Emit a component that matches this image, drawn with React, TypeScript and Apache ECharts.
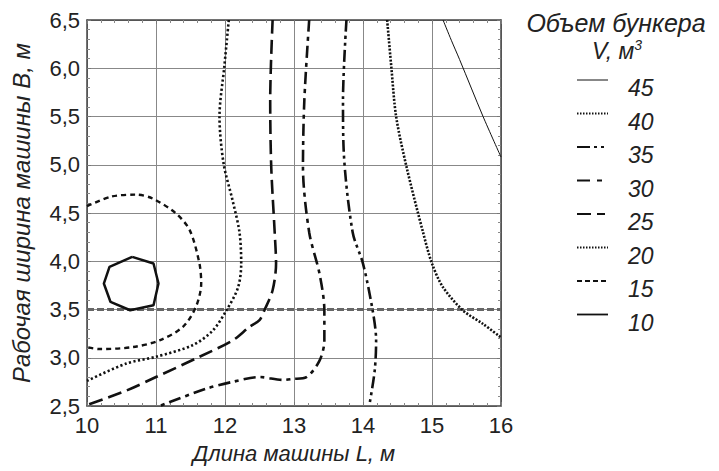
import React, { useEffect, useRef } from 'react';
import * as echarts from 'echarts';

// Contour levels, bunker volume V, m³
const levels = [45, 40, 35, 30, 25, 20, 15, 10];

// Contour lines: [L, B] pairs
const contour10: number[][] = [
  [10.655, 4.045], [10.964, 3.976], [11.036, 3.769], [10.964, 3.544], [10.626, 3.492],
  [10.341, 3.578], [10.244, 3.769], [10.326, 3.941], [10.655, 4.045],
];
const contour15: number[][] = [
  [10.0, 4.57], [10.35, 4.67], [10.71, 4.69], [10.95, 4.65], [11.29, 4.495], [11.49, 4.32],
  [11.63, 3.976], [11.655, 3.77], [11.58, 3.53], [11.39, 3.32], [11.05, 3.18], [10.66, 3.11],
  [10.18, 3.09], [10.0, 3.11],
];
const contour20: number[][] = [
  [12.055, 6.5], [11.99, 6.016], [11.92, 5.5], [11.98, 5.01], [12.11, 4.63], [12.21, 4.3],
  [12.235, 3.976], [12.19, 3.73], [12.02, 3.49], [11.82, 3.28], [11.53, 3.13], [11.0, 3.01],
  [10.57, 2.94], [10.0, 2.76],
];
const contour25: number[][] = [
  [12.69, 6.5], [12.655, 5.67], [12.67, 4.98], [12.72, 4.3], [12.74, 3.976], [12.69, 3.7],
  [12.57, 3.49], [12.5, 3.39], [12.355, 3.32], [12.11, 3.18], [11.63, 3.01], [11.0, 2.8],
  [10.57, 2.66], [10.0, 2.51],
];
const contour30: number[][] = [
  [13.22, 6.5], [13.15, 5.67], [13.13, 4.98], [13.22, 4.3], [13.37, 3.87], [13.44, 3.49],
  [13.44, 3.18], [13.37, 2.97], [13.18, 2.8], [12.98, 2.78], [12.84, 2.77], [12.5, 2.8],
  [12.11, 2.75], [11.73, 2.68], [11.05, 2.5],
];
const contour35: number[][] = [
  [13.76, 6.5], [13.71, 5.67], [13.72, 5.15], [13.85, 4.3], [14.0, 3.976], [14.14, 3.49],
  [14.19, 3.18], [14.17, 2.87], [14.09, 2.5],
];
const contour40: number[][] = [
  [14.35, 6.5], [14.41, 6.016], [14.48, 5.5], [14.63, 4.98], [14.87, 4.3], [15.0, 3.976],
  [15.16, 3.73], [15.45, 3.49], [15.74, 3.35], [16.0, 3.21],
];
const contour45: number[][] = [
  [15.16, 6.5], [15.28, 6.29], [15.4, 6.09], [15.74, 5.5], [16.0, 5.08],
];

const refB = 3.5;
const xMin = 10, xMax = 16, yMin = 2.5, yMax = 6.5;

const contours: Record<number, number[][]> = {
  45: contour45, 40: contour40, 35: contour35, 30: contour30,
  25: contour25, 20: contour20, 15: contour15, 10: contour10,
};

const styles: Record<number, { width: number; dash: number[] | 'solid'; legendDash: number[] | null }> = {
  45: { width: 1, dash: 'solid', legendDash: null },
  40: { width: 2.6, dash: [2, 1.6], legendDash: [1.5, 1.5] },
  35: { width: 2.6, dash: [12, 4, 3, 4, 3, 4], legendDash: [13, 4, 3, 4, 3, 4] },
  30: { width: 2.6, dash: [12, 5, 4, 5], legendDash: [13, 7, 5, 10] },
  25: { width: 2.6, dash: [14, 6], legendDash: [14, 6, 8, 10] },
  20: { width: 2.6, dash: [2.2, 2.4], legendDash: [1.5, 1.5] },
  15: { width: 2.4, dash: [5, 4], legendDash: [5, 3] },
  10: { width: 2.5, dash: 'solid', legendDash: null },
};

const FONT = '"Liberation Sans", Arial, Helvetica, sans-serif';
const TXT = '#222';

export default function App() {
  const ref = useRef<HTMLDivElement>(null);
  useEffect(() => {
    if (!ref.current) return;
    const chart = echarts.init(ref.current, undefined, { renderer: 'svg' });

    const series: any[] = levels.map((lv) => ({
      type: 'line',
      name: String(lv),
      data: contours[lv],
      showSymbol: false,
      symbol: 'none',
      smooth: lv === 10 ? false : 0.3,
      lineStyle: { color: '#111', width: styles[lv].width, type: styles[lv].dash },
      z: 3,
    }));
    series.push({
      type: 'line',
      name: 'ref',
      data: [[xMin, refB], [xMax, refB]],
      showSymbol: false,
      symbol: 'none',
      lineStyle: { color: '#666', width: 3, type: [7, 3] },
      z: 2,
    });

    const legendX1 = 577, legendX2 = 608, legendTextX = 628;
    const legendLineY0 = 80, legendTextY0 = 88, step = 33.5;
    const graphic: any[] = [
      {
        type: 'text', x: 616, y: 23,
        style: { text: 'Объем бункера', font: `italic 25px ${FONT}`, fill: TXT, align: 'center', verticalAlign: 'middle' },
      },
      {
        type: 'text', x: 617, y: 51,
        style: {
          text: 'V, м{sup|3}', font: `italic 23px ${FONT}`, fill: TXT, align: 'center', verticalAlign: 'middle',
          rich: { sup: { fontSize: 14, fontStyle: 'italic', fontFamily: FONT, verticalAlign: 'top', padding: [0, 0, 12, 0], fill: TXT } },
        },
      },
    ];
    levels.forEach((lv, i) => {
      const st = styles[lv];
      graphic.push({
        type: 'line',
        shape: { x1: legendX1, y1: legendLineY0 + i * step, x2: legendX2, y2: legendLineY0 + i * step },
        style: { stroke: '#111', lineWidth: lv === 45 ? 1 : 1.8, lineDash: st.legendDash },
      });
      graphic.push({
        type: 'text', x: legendTextX, y: legendTextY0 + i * step,
        style: { text: String(lv), font: `italic 23px ${FONT}`, fill: TXT, verticalAlign: 'middle' },
      });
    });

    const axisCommon = {
      type: 'value',
      axisLine: { show: true, lineStyle: { color: '#444', width: 1.5 } },
      axisTick: { show: true, inside: true, length: 4, lineStyle: { color: '#777' } },
      minorTick: { show: true, splitNumber: 5, length: 3, lineStyle: { color: '#888' } },
    };

    chart.setOption({
      animation: false,
      backgroundColor: '#fff',
      grid: { left: 87, right: 218, top: 20, bottom: 65, containLabel: false, outerBoundsMode: 'none' },
      xAxis: [
        {
          ...axisCommon, position: 'bottom', min: xMin, max: xMax, interval: 1,
          axisLabel: { color: TXT, fontSize: 22, fontFamily: FONT, margin: 8 },
          splitLine: { show: true, lineStyle: { color: '#888', width: 1 } },
          name: 'Длина машины L, м', nameLocation: 'middle', nameGap: 36,
          nameTextStyle: { color: TXT, fontSize: 22, fontStyle: 'italic', fontFamily: FONT },
        },
        { ...axisCommon, position: 'top', min: xMin, max: xMax, interval: 1, axisLabel: { show: false }, splitLine: { show: false } },
      ],
      yAxis: [
        {
          ...axisCommon, position: 'left', min: yMin, max: yMax, interval: 0.5,
          axisLabel: { color: TXT, fontSize: 22, fontFamily: FONT, margin: 7, formatter: (v: number) => v.toFixed(1).replace('.', ',') },
          splitLine: { show: true, lineStyle: { color: '#888', width: 1 } },
          name: 'Рабочая ширина машины B, м', nameLocation: 'middle', nameGap: 54, nameRotate: 90,
          nameTextStyle: { color: TXT, fontSize: 24, fontStyle: 'italic', fontFamily: FONT },
        },
        { ...axisCommon, position: 'right', min: yMin, max: yMax, interval: 0.5, axisLabel: { show: false }, splitLine: { show: false } },
      ],
      series,
      graphic,
    });
    return () => chart.dispose();
  }, []);
  return <div ref={ref} style={{ position: 'fixed', left: 0, top: 0, width: 719, height: 471 }} />;
}
